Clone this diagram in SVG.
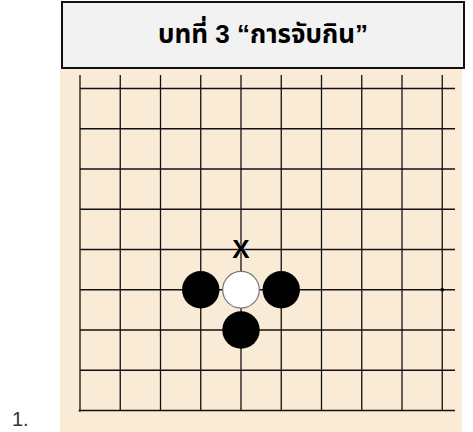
<svg xmlns="http://www.w3.org/2000/svg" width="473" height="432" viewBox="0 0 473 432">
  <style>
    .grid line { stroke: #111; stroke-width: 1.3; }
    .edge { stroke: #000; stroke-width: 2.6; }
    .black { fill: #000; }
    .white { fill: #fff; stroke: #777; stroke-width: 1.2; }
    .title { font-family: "Liberation Sans", "Noto Sans Thai", "Noto Sans", "DejaVu Sans", sans-serif; font-size: 26px; font-weight: bold; fill: #000; }
  </style>
  <rect x="0" y="0" width="473" height="432" fill="#fff"/>
  <g id="board">
    <rect x="60" y="69" width="402" height="363" fill="#faebd7"/>
  </g>
  <g id="title-box">
    <rect x="62" y="2" width="402" height="66" fill="#f2f2f2" stroke="#111" stroke-width="2"/>
    <text class="title" x="263" y="43" text-anchor="middle">บทที่ 3 “การจับกิน”</text>
  </g>
  <g id="grid" class="grid">
    <line x1="120.25" y1="75" x2="120.25" y2="410.5"/>
    <line x1="160.5" y1="75" x2="160.5" y2="410.5"/>
    <line x1="200.75" y1="75" x2="200.75" y2="410.5"/>
    <line x1="241" y1="75" x2="241" y2="410.5"/>
    <line x1="281.25" y1="75" x2="281.25" y2="410.5"/>
    <line x1="321.5" y1="75" x2="321.5" y2="410.5"/>
    <line x1="361.75" y1="75" x2="361.75" y2="410.5"/>
    <line x1="402" y1="75" x2="402" y2="410.5"/>
    <line x1="442.25" y1="75" x2="442.25" y2="410.5"/>
    <line x1="80" y1="88.5" x2="455" y2="88.5"/>
    <line x1="80" y1="128.75" x2="455" y2="128.75"/>
    <line x1="80" y1="169" x2="455" y2="169"/>
    <line x1="80" y1="209.25" x2="455" y2="209.25"/>
    <line x1="80" y1="249.5" x2="455" y2="249.5"/>
    <line x1="80" y1="289.75" x2="455" y2="289.75"/>
    <line x1="80" y1="330" x2="455" y2="330"/>
    <line x1="80" y1="370.25" x2="455" y2="370.25"/>
    <line class="edge" x1="80" y1="75" x2="80" y2="411.8"/>
    <line class="edge" x1="78.7" y1="410.5" x2="455" y2="410.5"/>
    <rect x="440.75" y="288.25" width="3" height="3" fill="#000"/>
  </g>
  <g id="stone-b1"><circle class="black" cx="200.75" cy="289.75" r="18.7"/></g>
  <g id="stone-w"><circle class="white" cx="241" cy="289.75" r="18.3"/></g>
  <g id="stone-b2"><circle class="black" cx="281.25" cy="289.75" r="18.7"/></g>
  <g id="stone-b3"><circle class="black" cx="241" cy="330" r="18.7"/></g>
  <g id="mark-x">
    <text x="241" y="257.5" text-anchor="middle" font-family="Liberation Sans, Arial, sans-serif" font-size="26" font-weight="bold" fill="#000" stroke="#faebd7" stroke-width="0.6" paint-order="stroke">X</text>
  </g>
  <g id="label">
    <text x="12" y="426" font-family="Liberation Sans, Arial, sans-serif" font-size="20" fill="#333">1.</text>
  </g>
</svg>
